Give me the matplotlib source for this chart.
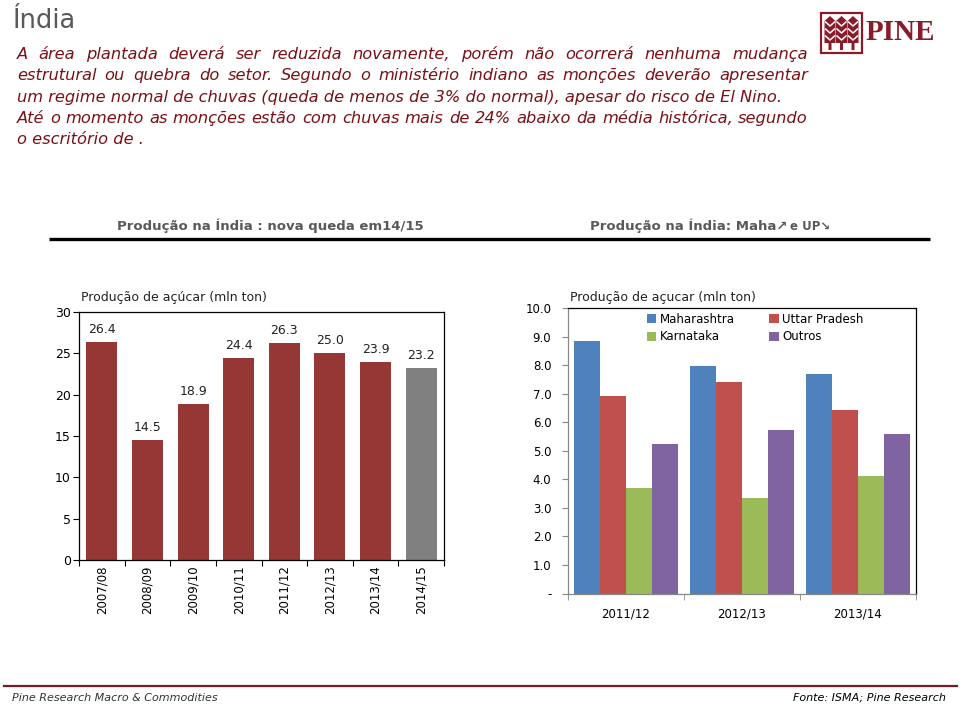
import numpy as np
import matplotlib
matplotlib.use('Agg')
import matplotlib.pyplot as plt
from matplotlib.patches import Rectangle, Polygon

# ── Dados ────────────────────────────────────────────────────────────────
safras = ['2007/08', '2008/09', '2009/10', '2010/11',
          '2011/12', '2012/13', '2013/14', '2014/15']
producao = [26.4, 14.5, 18.9, 24.4, 26.3, 25.0, 23.9, 23.2]

safras_estados = ['2011/12', '2012/13', '2013/14']
estados = ['Maharashtra', 'Uttar Pradesh', 'Karnataka', 'Outros']
maharashtra = [8.84, 7.96, 7.68]
uttar_pradesh = [6.92, 7.41, 6.43]
karnataka = [3.69, 3.35, 4.13]
outros = [5.22, 5.74, 5.57]

yticks_dir = [0, 1, 2, 3, 4, 5, 6, 7, 8, 9, 10]
ylabels_dir = ['-', '1.0', '2.0', '3.0', '4.0', '5.0', '6.0', '7.0', '8.0', '9.0', '10.0']

texto = [
    ("A área plantada deverá ser reduzida novamente, porém não ocorrerá nenhuma mudança", True),
    ("estrutural ou quebra do setor. Segundo o ministério indiano as monções deverão apresentar", True),
    ("um regime normal de chuvas (queda de menos de 3% do normal), apesar do risco de El Nino.", False),
    ("Até o momento as monções estão com chuvas mais de 24% abaixo da média histórica, segundo", True),
    ("o escritório de .", False),
]

# ── Cores ────────────────────────────────────────────────────────────────
VINHO = '#953735'
CINZA = '#808080'
TEXTO_VERM = '#7a1015'
LOGO = '#8a1c2a'
cores_estados = ['#4f81bd', '#c0504d', '#9bbb59', '#8064a2']

W, H = 960, 706
fig = plt.figure(figsize=(W / 100, H / 100), dpi=100)

# fundo em coordenadas de pixel
bg = fig.add_axes([0, 0, 1, 1], zorder=0)
bg.set_xlim(0, W)
bg.set_ylim(H, 0)
bg.axis('off')


def px_axes(x0, y0, x1, y1):
    return fig.add_axes([x0 / W, 1 - y1 / H, (x1 - x0) / W, (y1 - y0) / H], zorder=2)


renderer = fig.canvas.get_renderer()


def justified(line, y, x0, x1, **kw):
    words = line.split()
    ts = [bg.text(0, y, w, **kw) for w in words]
    ws = [t.get_window_extent(renderer).width for t in ts]
    gap = (x1 - x0 - sum(ws)) / (len(words) - 1)
    pos = x0
    for t, w in zip(ts, ws):
        t.set_x(pos)
        pos += w + gap


# ── Cabeçalho ────────────────────────────────────────────────────────────
bg.text(13, 28.5, 'Índia', fontsize=18.5, color='#595959', va='baseline')

body_kw = dict(fontsize=11.7, style='italic', color=TEXTO_VERM, va='baseline')
for i, (linha, just) in enumerate(texto):
    y = 59 + i * 21.3
    if just:
        justified(linha, y, 17, 808, **body_kw)
    else:
        bg.text(17, y, linha, **body_kw)

# logo PINE
bg.add_patch(Rectangle((821, 12.5), 41, 40, fill=False, ec=LOGO, lw=1.6))
for cx in (830, 841.5, 853):
    bg.add_patch(Polygon([(cx, 16), (cx + 5.5, 21), (cx + 5.5, 43), (cx + 1.5, 43),
                          (cx + 1.5, 50), (cx - 1.5, 50), (cx - 1.5, 43),
                          (cx - 5.5, 43), (cx - 5.5, 21)], closed=True, fc=LOGO, ec='none'))
    for yy in (22, 29, 36):
        bg.plot([cx - 4.5, cx, cx + 4.5], [yy, yy + 4, yy], color='white', lw=1.1)
bg.text(866, 32.5, 'PINE', fontsize=21, fontweight='bold', family='Liberation Serif',
        color=LOGO, va='center', ha='left')

# títulos das seções
hdr_kw = dict(fontsize=9.5, fontweight='bold', color='#595959', va='baseline')
bg.text(270, 230, 'Produção na Índia : nova queda em14/15', ha='center', **hdr_kw)
t1 = bg.text(590, 230, 'Produção na Índia: Maha\u2197', ha='left', **hdr_kw)
w1 = t1.get_window_extent(renderer).width
bg.text(590 + w1 + 3, 230, 'e UP\u2198', ha='left', fontsize=8.5, fontweight='bold',
        color='#595959', va='baseline')
bg.plot([49, 930], [239, 239], color='black', lw=2.4, solid_capstyle='butt')

# ── Gráfico esquerdo ─────────────────────────────────────────────────────
ax1 = px_axes(79, 312, 444, 560)
x = np.arange(len(safras))
cores = [VINHO] * (len(safras) - 1) + [CINZA]
ax1.bar(x, producao, width=0.68, color=cores, zorder=2)
for xi, v in zip(x, producao):
    ax1.annotate(f'{v:.1f}', (xi, v), xytext=(0, 9), textcoords='offset points',
                 ha='center', va='center', fontsize=9, color='#222222')
ax1.set_xlim(-0.5, len(safras) - 0.5)
ax1.set_ylim(0, 30)
ax1.set_yticks(np.arange(0, 31, 5))
ax1.set_xticks(x)
ax1.set_xticklabels(safras, rotation=90, fontsize=8.5)
ax1.set_xticks(np.arange(-0.5, len(safras)), minor=True)
ax1.tick_params(axis='x', which='major', length=0, pad=4)
ax1.tick_params(axis='x', which='minor', length=4, direction='out', width=0.8)
ax1.tick_params(axis='y', length=4, direction='out', width=0.8, pad=2, labelsize=9)
for s in ax1.spines.values():
    s.set_linewidth(0.9)
bg.text(81, 298, 'Produção de açúcar (mln ton)', fontsize=9, va='center', color='#222222')

# ── Gráfico direito ──────────────────────────────────────────────────────
ax2 = px_axes(568, 308, 916, 593.5)
x2 = np.arange(len(safras_estados))
bw = 0.222
series = [maharashtra, uttar_pradesh, karnataka, outros]
handles = []
for k, (nome, vals, cor) in enumerate(zip(estados, series, cores_estados)):
    h = ax2.bar(x2 + (k - 1.5) * bw, vals, width=bw, color=cor, label=nome, zorder=2)
    handles.append(h)
ax2.set_xlim(-0.5, len(safras_estados) - 0.5)
ax2.set_ylim(0, 10)
ax2.set_yticks(yticks_dir)
ax2.set_yticklabels(ylabels_dir, fontsize=8.5)
ax2.set_xticks(x2)
ax2.set_xticklabels(safras_estados, fontsize=8.5)
ax2.set_xticks(np.arange(-0.5, len(safras_estados)), minor=True)
ax2.tick_params(axis='x', which='major', length=0, pad=10)
ax2.tick_params(axis='x', which='minor', length=4, direction='out', color='#888888')
ax2.tick_params(axis='y', length=4, direction='out', color='#888888', pad=8)
ax2.spines['left'].set_color('#888888')
ax2.spines['bottom'].set_color('#888888')
for s in ax2.spines.values():
    s.set_linewidth(0.9)
ordem = [0, 2, 1, 3]
ax2.legend([handles[i] for i in ordem], [estados[i] for i in ordem], ncol=2,
           loc='upper left', bbox_to_anchor=(0.213, 1.0), frameon=False,
           fontsize=8.5, handlelength=0.8, handleheight=0.8, handletextpad=0.3,
           columnspacing=2.9, labelspacing=0.4, borderaxespad=0)
bg.text(570, 298, 'Produção de açucar (mln ton)', fontsize=9, va='center', color='#222222')

# ── Rodapé ───────────────────────────────────────────────────────────────
bg.plot([4, 957], [686, 686], color='#7a1a25', lw=1.6)
bg.text(12, 698, 'Pine Research Macro & Commodities', fontsize=8, style='italic',
        color='#333333', va='center')
bg.text(946, 698, 'Fonte: ISMA; Pine Research', fontsize=8, style='italic',
        color='black', va='center', ha='right')

fig.savefig('out.png', dpi=100)
